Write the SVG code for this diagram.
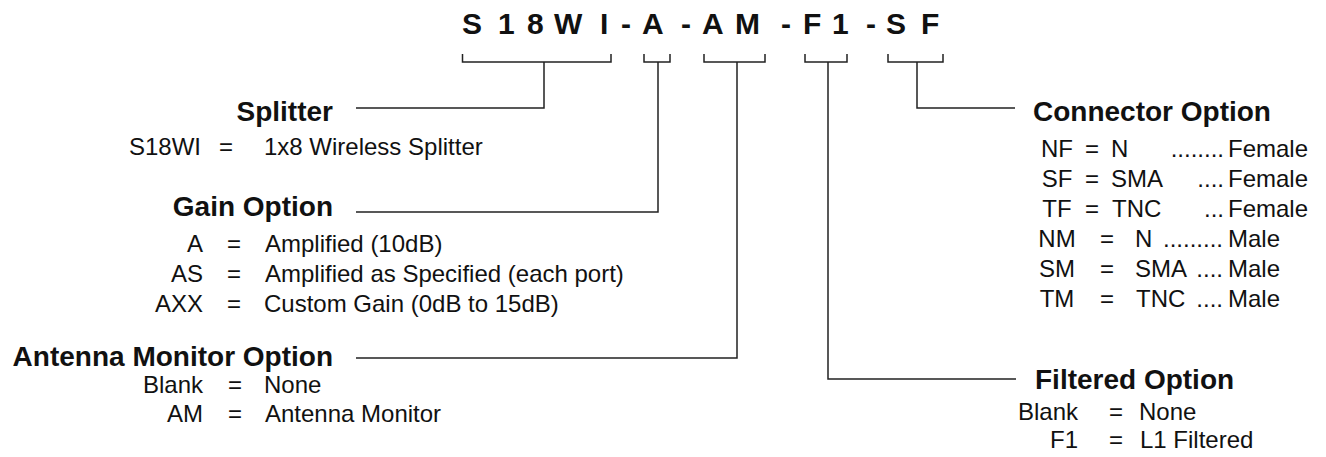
<svg xmlns="http://www.w3.org/2000/svg" width="1326" height="457" viewBox="0 0 1326 457">
<style>
text{font-family:"Liberation Sans",Arial,sans-serif;fill:#111}
.t{font-size:30px;font-weight:bold}
.h{font-size:28px;font-weight:bold}
.r{font-size:24px}
.e{text-anchor:end}
.m{text-anchor:middle}
.c{fill:none;stroke:#222;stroke-width:1.5}
</style>
<rect width="1326" height="457" fill="#fff"/>
<g id="title">
<text class="t" x="462 498 527 554 600 621 642 681 702 735 781 803 832 866 886 921" y="34">S18WI-A-AM-F1-SF</text>
</g>
<g id="connectors">
<path class="c" d="M462.5 54V62H611V54M544 62V108H356"/>
<path class="c" d="M644 54V62H670V54M658 62V212H356"/>
<path class="c" d="M704 54V62H765V54M737 62V358H356"/>
<path class="c" d="M805 54V62H847V54M828 62V379H1016"/>
<path class="c" d="M888 54V62H943V54M917 62V108H1015"/>
</g>
<g id="splitter">
<text class="h e" x="333" y="121">Splitter</text>
<text class="r e" x="201" y="155">S18WI</text>
<text class="r m" x="226" y="155">=</text>
<text class="r" x="264" y="155">1x8 Wireless Splitter</text>
</g>
<g id="gain">
<text class="h e" x="333" y="216">Gain Option</text>
<text class="r e" x="203" y="252">A</text>
<text class="r m" x="234" y="252">=</text>
<text class="r" x="265" y="252">Amplified (10dB)</text>
<text class="r e" x="203" y="282">AS</text>
<text class="r m" x="234" y="282">=</text>
<text class="r" x="265" y="282">Amplified as Specified (each port)</text>
<text class="r e" x="203" y="312">AXX</text>
<text class="r m" x="234" y="312">=</text>
<text class="r" x="264" y="312">Custom Gain (0dB to 15dB)</text>
</g>
<g id="antenna">
<text class="h e" x="333" y="366">Antenna Monitor Option</text>
<text class="r e" x="203" y="393">Blank</text>
<text class="r m" x="235" y="393">=</text>
<text class="r" x="264" y="393">None</text>
<text class="r e" x="203" y="422">AM</text>
<text class="r m" x="235" y="422">=</text>
<text class="r" x="265" y="422">Antenna Monitor</text>
</g>
<g id="connector">
<text class="h" x="1033" y="121">Connector Option</text>
<text class="r m" x="1057" y="157">NF</text>
<text class="r m" x="1092" y="157">=</text>
<text class="r" x="1111" y="157">N</text>
<text class="r e" x="1224" y="157">........</text>
<text class="r e" x="1308" y="157">Female</text>
<text class="r m" x="1057" y="187">SF</text>
<text class="r m" x="1092" y="187">=</text>
<text class="r" x="1111" y="187">SMA</text>
<text class="r e" x="1224" y="187">....</text>
<text class="r e" x="1308" y="187">Female</text>
<text class="r m" x="1057" y="217">TF</text>
<text class="r m" x="1092" y="217">=</text>
<text class="r" x="1112" y="217">TNC</text>
<text class="r e" x="1224" y="217">...</text>
<text class="r e" x="1308" y="217">Female</text>
<text class="r m" x="1057" y="247">NM</text>
<text class="r m" x="1107" y="247">=</text>
<text class="r" x="1135" y="247">N</text>
<text class="r e" x="1223" y="247">.........</text>
<text class="r e" x="1280" y="247">Male</text>
<text class="r m" x="1057" y="277">SM</text>
<text class="r m" x="1107" y="277">=</text>
<text class="r" x="1135" y="277">SMA</text>
<text class="r e" x="1223" y="277">....</text>
<text class="r e" x="1280" y="277">Male</text>
<text class="r m" x="1057" y="307">TM</text>
<text class="r m" x="1107" y="307">=</text>
<text class="r" x="1136" y="307">TNC</text>
<text class="r e" x="1223" y="307">....</text>
<text class="r e" x="1280" y="307">Male</text>
</g>
<g id="filtered">
<text class="h" x="1035" y="389">Filtered Option</text>
<text class="r e" x="1078" y="420">Blank</text>
<text class="r m" x="1116" y="420">=</text>
<text class="r" x="1139" y="420">None</text>
<text class="r e" x="1078" y="448">F1</text>
<text class="r m" x="1116" y="448">=</text>
<text class="r" x="1140" y="448">L1 Filtered</text>
</g>
</svg>
